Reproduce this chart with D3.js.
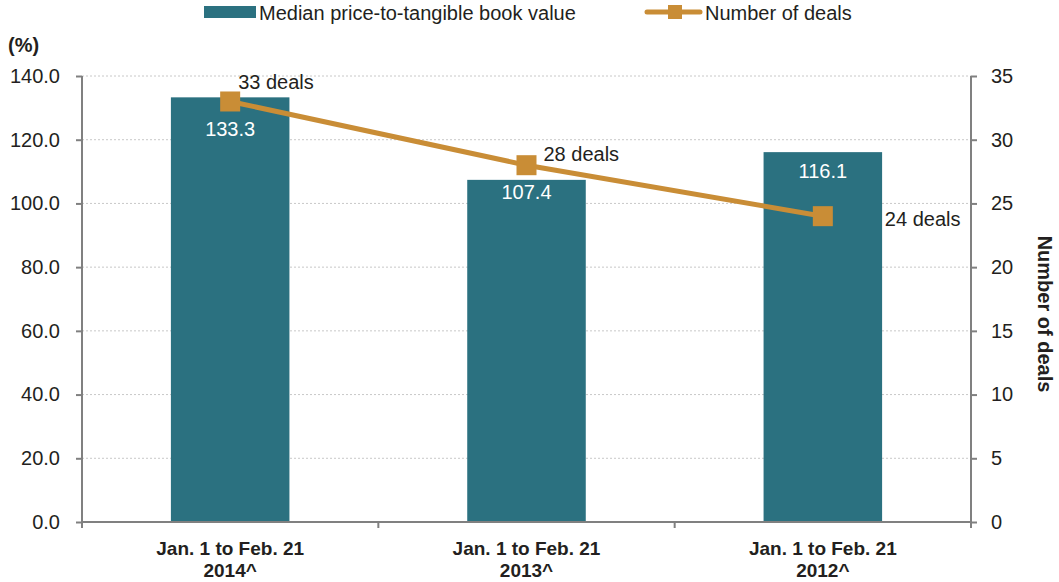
<!DOCTYPE html>
<html>
  <head>
    <meta charset="utf-8">
    <title>Median price-to-tangible book value</title>
    <script src="https://d3js.org/d3.v7.min.js"></script>
    <style>
      body { margin: 0; background: #fff; }
      text { font-family: "Liberation Sans", Arial, sans-serif; fill: #231f20; }
    </style>
  </head>
  <body>
    <script>
      const categories = ["Jan. 1 to Feb. 21|2014^", "Jan. 1 to Feb. 21|2013^", "Jan. 1 to Feb. 21|2012^"];
      const ptbv = [133.3, 107.4, 116.1];
      const deals = [33, 28, 24];
      const leftTicks = [0, 20, 40, 60, 80, 100, 120, 140];
      const rightTicks = [0, 5, 10, 15, 20, 25, 30, 35];

      const W = 1059, H = 582;
      const margin = {top: 76, right: 88, bottom: 60, left: 82};
      const width = W - margin.left - margin.right;
      const height = H - margin.top - margin.bottom;

      const svg = d3.select("body").append("svg")
        .attr("width", W).attr("height", H);
      const g = svg.append("g")
        .attr("transform", "translate(" + margin.left + "," + margin.top + ")");

      const xb = d3.scaleBand().domain(categories).range([0, width]);
      const yL = d3.scaleLinear().domain([0, 140]).range([height, 0]);
      const yR = d3.scaleLinear().domain([0, 35]).range([height, 0]);

      // grid lines
      g.selectAll(".grid").data(leftTicks.filter(d => d > 0)).enter()
        .append("line")
        .attr("x1", 0).attr("x2", width)
        .attr("y1", d => yL(d)).attr("y2", d => yL(d))
        .attr("stroke", "#c8c8c8").attr("stroke-width", 1)
        .attr("stroke-dasharray", "2,2");

      // bars
      const bw = xb.bandwidth() * 0.4;
      g.selectAll(".bar").data(categories).enter()
        .append("rect")
        .attr("x", d => xb(d) + xb.bandwidth() / 2 - bw / 2)
        .attr("width", bw)
        .attr("y", (d, i) => yL(ptbv[i]))
        .attr("height", (d, i) => height - yL(ptbv[i]))
        .attr("fill", "#2b7180");

      // left axis
      const axL = g.append("g")
        .call(d3.axisLeft(yL).tickValues(leftTicks).tickFormat(d3.format(".1f")).tickSize(6).tickPadding(16));
      // right axis
      const axR = g.append("g").attr("transform", "translate(" + width + ",0)")
        .call(d3.axisRight(yR).tickValues(rightTicks).tickSize(6).tickPadding(14));
      // bottom axis
      const axB = g.append("g").attr("transform", "translate(0," + height + ")")
        .call(d3.axisBottom(xb).tickSize(6).tickFormat(""));
      axB.selectAll(".tick").remove();
      const bTicks = [0, 1, 2, 3].map(i => i * xb.bandwidth());
      axB.selectAll(".bt").data(bTicks).enter().append("line")
        .attr("x1", d => d).attr("x2", d => d).attr("y1", 0).attr("y2", 6)
        .attr("stroke", "#808080").attr("stroke-width", 2);

      [axL, axR, axB].forEach(a => {
        a.select(".domain").attr("stroke", "#808080").attr("stroke-width", 2);
        a.selectAll(".tick line").attr("stroke", "#808080").attr("stroke-width", 2);
        a.selectAll(".tick text").style("font-size", "20px").attr("fill", "#231f20");
      });
      axL.select(".domain").attr("d", "M0," + height + "V0");
      axR.select(".domain").attr("d", "M0," + height + "V0");
      axB.select(".domain").attr("d", "M0,0H" + width);

      // category labels (two lines, separate texts)
      [0, 1].forEach(k => {
        g.selectAll(".cat" + k).data(categories).enter()
          .append("text")
          .attr("text-anchor", "middle")
          .attr("x", d => xb(d) + xb.bandwidth() / 2)
          .attr("y", height + 33 + k * 22)
          .style("font-weight", "bold")
          .style("font-size", "19px")
          .text(d => d.split("|")[k]);
      });

      // bar value labels
      const vOff = [39, 19, 26];
      g.selectAll(".val").data(categories).enter()
        .append("text")
        .attr("text-anchor", "middle")
        .attr("x", d => xb(d) + xb.bandwidth() / 2)
        .attr("y", (d, i) => yL(ptbv[i]) + vOff[i])
        .style("font-size", "20px")
        .style("fill", "#fff")
        .text((d, i) => ptbv[i].toFixed(1));

      // deals line
      const cx = (d, i) => xb(categories[i]) + xb.bandwidth() / 2;
      const line = d3.line().x((d, i) => cx(d, i)).y(d => yR(d));
      g.append("path").datum(deals)
        .attr("d", line).attr("fill", "none")
        .attr("stroke", "#c98d36").attr("stroke-width", 5);
      g.selectAll(".mk").data(deals).enter()
        .append("rect")
        .attr("x", (d, i) => cx(d, i) - 10).attr("y", d => yR(d) - 10)
        .attr("width", 20).attr("height", 20)
        .attr("fill", "#c98d36");

      // deals labels
      const dOff = [[8, -13], [17, -4], [62, 10]];
      g.selectAll(".dl").data(deals).enter()
        .append("text")
        .attr("x", (d, i) => cx(d, i) + dOff[i][0])
        .attr("y", (d, i) => yR(d) + dOff[i][1])
        .style("font-size", "20px")
        .text(d => d + " deals");

      // axis titles
      svg.append("text").attr("x", 8).attr("y", 52)
        .style("font-weight", "bold").style("font-size", "20px").text("(%)");
      svg.append("text")
        .attr("transform", "translate(1038," + (margin.top + height / 2 + 15) + ") rotate(90)")
        .attr("text-anchor", "middle")
        .style("font-weight", "bold").style("font-size", "20px")
        .text("Number of deals");

      // legend
      const lg = svg.append("g");
      lg.append("rect").attr("x", 204).attr("y", 6).attr("width", 52).attr("height", 12).attr("fill", "#2b7180");
      lg.append("text").attr("x", 259).attr("y", 20).style("font-size", "20px").text("Median price-to-tangible book value");
      lg.append("line").attr("x1", 647).attr("x2", 700).attr("y1", 12).attr("y2", 12)
        .attr("stroke", "#c98d36").attr("stroke-width", 5).attr("stroke-linecap", "round");
      lg.append("rect").attr("x", 668).attr("y", 5).attr("width", 14).attr("height", 14).attr("fill", "#c98d36");
      lg.append("text").attr("x", 705).attr("y", 20).style("font-size", "20px").text("Number of deals");
    </script>
  </body>
</html>
